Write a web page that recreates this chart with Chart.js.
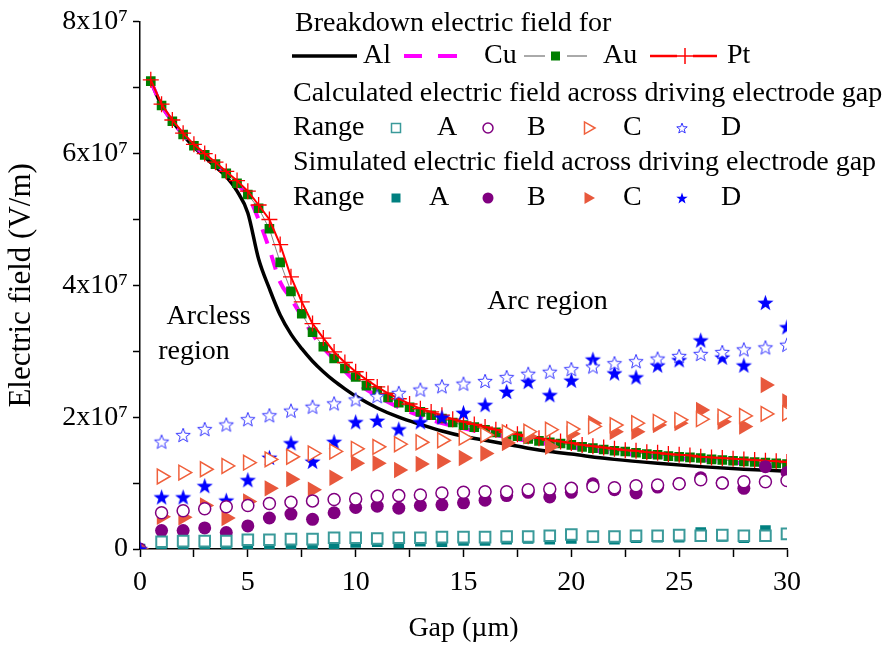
<!DOCTYPE html>
<html>
<head>
<meta charset="utf-8">
<script src="https://cdn.jsdelivr.net/npm/chart.js@4/dist/chart.umd.min.js"></script>
<style>
  html, body { margin: 0; padding: 0; background: #fff; }
  #wrap { width: 896px; height: 646px; }
</style>
</head>
<body>
<div id="wrap"><canvas id="chart" width="896" height="646"></canvas></div>
<script>
// Field values are in units of 1e6 V/m; the y ticks print them as Nx10^7.

// Breakdown field curves
const gapBreak = [0.5, 1, 1.5, 2, 2.5, 3, 3.5, 4, 4.5, 5, 5.5, 6, 6.5, 7, 7.5, 8, 8.5, 9, 9.5, 10,
                  10.5, 11, 11.5, 12, 12.5, 13, 13.5, 14, 14.5, 15, 15.5, 16, 16.5, 17, 17.5, 18, 18.5, 19, 19.5, 20,
                  20.5, 21, 21.5, 22, 22.5, 23, 23.5, 24, 24.5, 25, 25.5, 26, 26.5, 27, 27.5, 28, 28.5, 29, 29.5, 30];
const fieldAu = [71.0, 67.3, 64.9, 62.9, 61.2, 59.8, 58.4, 57.0, 55.5, 53.8, 51.7, 48.6, 43.5, 39.1, 35.7, 32.9, 30.7, 28.9, 27.4, 26.1,
                 24.8, 24.0, 23.0, 22.2, 21.5, 20.8, 20.3, 19.8, 19.2, 18.8, 18.5, 18.1, 17.7, 17.3, 17.1, 16.7, 16.4, 16.2, 16.0, 15.8,
                 15.5, 15.3, 15.1, 14.9, 14.8, 14.6, 14.4, 14.3, 14.1, 14.0, 13.9, 13.8, 13.6, 13.5, 13.4, 13.3, 13.2, 13.1, 13.0, 12.9];
const fieldPt = [71.2, 67.5, 65.1, 63.1, 61.4, 60.0, 58.7, 57.3, 55.9, 54.3, 52.2, 50.0, 46.2, 41.3, 37.5, 34.2, 32.0, 29.9, 28.3, 26.9,
                 25.7, 24.6, 23.6, 22.8, 22.0, 21.3, 20.8, 20.3, 19.7, 19.3, 18.9, 18.5, 18.1, 17.7, 17.4, 17.1, 16.8, 16.5, 16.3, 16.1,
                 15.8, 15.6, 15.4, 15.2, 15.0, 14.9, 14.7, 14.6, 14.4, 14.3, 14.2, 14.0, 13.9, 13.8, 13.7, 13.6, 13.5, 13.4, 13.3, 13.2];
const gapAl = [0.5, 1, 1.5, 2, 2.5, 3, 3.5, 4, 4.5, 5, 5.5, 6, 6.5, 7, 7.5, 8, 8.5, 9, 9.5, 10,
               11, 12, 13, 14, 15, 16, 17, 18, 19, 20, 22, 24, 26, 28, 30];
const fieldAl = [71.0, 67.3, 64.9, 62.8, 61.0, 59.5, 58.0, 56.5, 54.3, 51.0, 44.0, 39.5, 35.5, 32.6, 30.4, 28.5, 26.9, 25.5, 24.3, 23.2,
                 21.4, 20.0, 18.9, 17.9, 17.1, 16.5, 15.9, 15.3, 14.8, 14.4, 13.6, 13.0, 12.5, 12.1, 11.8];
const gapCu = [0.5, 1, 1.5, 2, 2.5, 3, 3.5, 4, 4.5, 5, 5.5, 6, 6.5, 7, 7.5, 8, 8.5, 9, 9.5, 10,
               11, 12, 13, 14, 15, 16, 18, 20, 22, 24, 26, 28, 30];
const fieldCu = [71.0, 67.3, 64.9, 62.9, 61.2, 59.8, 58.4, 57.0, 55.4, 53.6, 50.0, 45.5, 40.5, 38.0, 35.3, 32.6, 30.5, 28.8, 27.0, 25.4,
                 23.2, 21.5, 20.2, 19.1, 18.3, 17.6, 16.4, 15.4, 14.6, 14.0, 13.5, 13.0, 12.6];

// Field across the driving electrode gap, ranges A-D
const gapCalc = [1, 2, 3, 4, 5, 6, 7, 8, 9, 10, 11, 12, 13, 14, 15, 16, 17, 18, 19, 20,
                 21, 22, 23, 24, 25, 26, 27, 28, 29, 30];
const calcA = [1.1, 1.2, 1.2, 1.2, 1.4, 1.4, 1.5, 1.5, 1.7, 1.7, 1.6, 1.7, 1.7, 1.8, 1.8, 1.8, 1.9, 1.9, 2.0, 2.2,
               1.9, 1.9, 2.0, 2.0, 2.1, 2.0, 2.1, 2.0, 2.0, 2.3];
const calcB = [5.5, 5.8, 6.1, 6.4, 6.6, 6.9, 7.1, 7.3, 7.5, 7.6, 8.0, 8.1, 8.2, 8.5, 8.6, 8.7, 8.7, 9.0, 9.1, 9.2,
               9.5, 9.3, 9.6, 9.7, 9.9, 10.5, 10.0, 10.2, 10.2, 10.4];
const calcC = [11.0, 11.6, 12.1, 12.6, 13.1, 13.6, 14.0, 14.5, 14.8, 15.2, 15.5, 15.9, 16.2, 16.5, 16.9, 17.3, 17.7, 17.8, 18.1, 18.2,
               18.6, 18.8, 19.1, 19.3, 19.6, 19.7, 20.1, 20.2, 20.5, 20.6];
const calcD = [16.3, 17.3, 18.2, 18.9, 19.7, 20.3, 21.0, 21.6, 22.1, 22.7, 23.2, 23.7, 24.2, 24.7, 25.1, 25.5, 26.1, 26.6, 26.9, 27.3,
               27.7, 28.2, 28.5, 28.9, 29.3, 29.6, 29.9, 30.3, 30.6, 31.0];

const gapSim = [0, 1, 2, 3, 4, 5, 6, 7, 8, 9, 10, 11, 12, 13, 14, 15, 16, 17, 18, 19, 20,
                21, 22, 23, 24, 25, 26, 27, 28, 29, 30];
const simA = [0, 0.6, 0.6, 0.5, 0.6, 0.5, 0.4, 0.5, 0.3, 0.8, 1.0, 1.1, 0.9, 1.2, 1.1, 1.3, 1.3, 1.5, 1.6, 1.5, 1.6,
              1.7, 1.5, 1.7, 1.8, 1.8, 2.5, 1.9, 1.7, 2.8, 2.2];
const simB = [0, 2.8, 2.8, 3.2, 2.5, 3.5, 4.7, 5.3, 4.5, 5.5, 6.3, 6.5, 6.2, 6.6, 6.7, 7.0, 7.4, 8.1, 8.6, 7.9, 8.6,
              9.9, 9.0, 8.5, 9.4, 9.9, 10.8, 10.0, 9.2, 12.5, 11.6];
const simC = [0, 4.9, 4.8, 6.6, 4.7, 7.2, 9.2, 10.6, 9.0, 10.8, 13.0, 13.0, 12.0, 12.9, 13.3, 13.8, 14.5, 16.1, 17.1, 15.5, 17.5,
              19.1, 17.8, 17.8, 18.8, 19.1, 21.1, 19.3, 18.6, 24.9, 22.4];
const simD = [0, 7.9, 7.9, 9.6, 7.4, 10.5, 13.9, 16.1, 13.3, 16.3, 19.3, 19.5, 18.2, 19.3, 20.0, 20.7, 21.9, 23.9, 25.4, 23.4, 25.6,
              28.8, 26.7, 26.1, 27.9, 28.7, 31.7, 29.1, 27.9, 37.4, 33.7];

// ------------------------------------------------------------
const SERIF = "'Liberation Serif', 'Times New Roman', serif";
const FONT28 = { family: SERIF, size: 28 };

const COL = {
    tealOpen: "#3a9a9a", teal: "#008080",
    purple: "#800080",
    orangeOpen: "#f0603c", orange: "#e8583c",
    blueOpen: "#3535ff", blue: "#0000ff",
    green: "#007f00", magenta: "#ff00ff", red: "#ff0000",
};

const pts = (xs, ys) => xs.map((x, i) => ({ x, y: ys[i] }));

// five-point star as an image, used as pointStyle
function starImage(r, fill, stroke, lw, inner) {
    const size = Math.ceil(2 * r + lw + 2);
    const c = document.createElement("canvas");
    c.width = c.height = size;
    const g = c.getContext("2d");
    const cx = size / 2, cy = size / 2 + r * 0.1;
    g.beginPath();
    for (let i = 0; i < 10; i++) {
        const rr = i % 2 ? r * inner : r;
        const a = -Math.PI / 2 + i * Math.PI / 5;
        const px = cx + rr * Math.cos(a), py = cy + rr * Math.sin(a);
        if (i) g.lineTo(px, py); else g.moveTo(px, py);
    }
    g.closePath();
    g.fillStyle = fill;
    g.fill();
    if (lw) { g.lineWidth = lw; g.strokeStyle = stroke; g.stroke(); }
    return c;
}

const starOpen = starImage(7.5, "#fff", COL.blueOpen, 1, 0.42);
const starFill = starImage(8.5, COL.blue, COL.blue, 0, 0.4);
const starOpenSm = starImage(5.5, "#fff", COL.blueOpen, 1, 0.42);
const starFillSm = starImage(6, COL.blue, COL.blue, 0, 0.4);

// ------------------------------------------------------------
//  Legend block and region labels drawn over the plot
// ------------------------------------------------------------
function marker(ctx, kind, x, y, r, color, open) {
    ctx.save();
    ctx.fillStyle = open ? "#fff" : color;
    ctx.strokeStyle = color;
    ctx.lineWidth = 1.5;
    ctx.beginPath();
    if (kind === "rect") {
        ctx.rect(x - r, y - r, 2 * r, 2 * r);
    } else if (kind === "circle") {
        ctx.arc(x, y, r, 0, Math.PI * 2);
    } else if (kind === "tri") {
        ctx.moveTo(x + r, y);
        ctx.lineTo(x - r * 0.5, y - r * 0.866);
        ctx.lineTo(x - r * 0.5, y + r * 0.866);
        ctx.closePath();
    }
    ctx.fill();
    if (open) ctx.stroke();
    ctx.restore();
}

function hline(ctx, x0, x1, y, color, w, dash) {
    ctx.save();
    ctx.strokeStyle = color;
    ctx.lineWidth = w;
    if (dash) ctx.setLineDash(dash);
    ctx.beginPath();
    ctx.moveTo(x0, y);
    ctx.lineTo(x1, y);
    ctx.stroke();
    ctx.restore();
}

const overlay = {
    id: "overlay",
    afterDraw(chart) {
        const ctx = chart.ctx;
        const { x, y } = chart.scales;
        ctx.save();
        ctx.font = "28px " + SERIF;
        ctx.fillStyle = "#000";
        ctx.textBaseline = "middle";

        // regions
        ctx.textAlign = "center";
        ctx.fillText("Arcless", x.getPixelForValue(3.18), y.getPixelForValue(35.3));
        ctx.fillText("region", x.getPixelForValue(2.5), y.getPixelForValue(30.0));
        ctx.fillText("Arc region", x.getPixelForValue(18.9), y.getPixelForValue(37.6));

        // legend
        ctx.textAlign = "left";
        ctx.fillText("Breakdown electric field for", 295, 24);

        const r2 = 56;
        hline(ctx, 292, 357, r2, "#000", 3.5);
        ctx.fillText("Al", 363, r2);
        hline(ctx, 404, 422, r2, COL.magenta, 4);
        hline(ctx, 438, 457, r2, COL.magenta, 4);
        ctx.fillText("Cu", 484, r2);
        hline(ctx, 524, 545, r2, "#555", 1);
        ctx.fillStyle = COL.green;
        ctx.fillRect(551, r2 - 4.5, 9, 9);
        ctx.fillStyle = "#000";
        hline(ctx, 567, 587, r2, "#555", 1);
        ctx.fillText("Au", 603, r2);
        hline(ctx, 650, 677, r2, COL.red, 2.5);
        hline(ctx, 677, 693, r2, COL.red, 1.5);
        ctx.save();
        ctx.strokeStyle = COL.red; ctx.lineWidth = 1.5;
        ctx.beginPath(); ctx.moveTo(685, r2 - 8); ctx.lineTo(685, r2 + 8); ctx.stroke();
        ctx.restore();
        hline(ctx, 693, 717, r2, COL.red, 2.5);
        ctx.fillText("Pt", 727, r2);

        ctx.fillText("Calculated electric field across driving electrode gap", 293, 94);
        const r4 = 128;
        ctx.fillText("Range", 293, r4);
        marker(ctx, "rect", 396, r4, 4.5, COL.tealOpen, true);
        ctx.fillText("A", 437, r4);
        marker(ctx, "circle", 488, r4, 5, COL.purple, true);
        ctx.fillText("B", 527, r4);
        marker(ctx, "tri", 588, r4, 7, COL.orangeOpen, true);
        ctx.fillText("C", 623, r4);
        ctx.drawImage(starOpenSm, 682 - starOpenSm.width / 2, r4 - starOpenSm.height / 2);
        ctx.fillText("D", 721, r4);

        ctx.fillText("Simulated electric field across driving electrode gap", 293, 163);
        const r6 = 198;
        ctx.fillText("Range", 293, r6);
        marker(ctx, "rect", 396, r6, 4.5, COL.teal, false);
        ctx.fillText("A", 429, r6);
        marker(ctx, "circle", 488, r6, 5.5, COL.purple, false);
        ctx.fillText("B", 527, r6);
        marker(ctx, "tri", 588, r6, 7, COL.orange, false);
        ctx.fillText("C", 623, r6);
        ctx.drawImage(starFillSm, 682 - starFillSm.width / 2, r6 - starFillSm.height / 2);
        ctx.fillText("D", 721, r6);
        ctx.restore();
    },
};

// ------------------------------------------------------------
//  Datasets
// ------------------------------------------------------------
const datasets = [
    { label: "Al", data: pts(gapAl, fieldAl), showLine: true, borderColor: "#000", borderWidth: 3.5,
      pointRadius: 0, cubicInterpolationMode: "monotone", order: 20 },
    { label: "Cu", data: pts(gapCu, fieldCu), showLine: true, borderColor: COL.magenta, borderWidth: 4,
      borderDash: [15, 12], pointRadius: 0, cubicInterpolationMode: "monotone", order: 19 },
    { label: "Au", data: pts(gapBreak, fieldAu), showLine: true, borderColor: "#666", borderWidth: 0.8,
      pointStyle: "rect", pointRadius: 6.8, backgroundColor: COL.green,
      pointBorderWidth: 0, order: 18 },
    { label: "Pt", data: pts(gapBreak, fieldPt), showLine: true, borderColor: COL.red, borderWidth: 2,
      pointStyle: "cross", pointRadius: 8, pointBorderColor: COL.red, pointBorderWidth: 1.3, order: 17 },

    { label: "Sim A", data: pts(gapSim, simA), pointStyle: "rect", pointRadius: 7.5,
      backgroundColor: COL.teal, borderWidth: 0, order: 12 },
    { label: "Sim B", data: pts(gapSim, simB), pointStyle: "circle", pointRadius: 6.5,
      backgroundColor: COL.purple, borderWidth: 0, order: 11 },
    { label: "Sim C", data: pts(gapSim, simC), pointStyle: "triangle", rotation: 90, pointRadius: 9.5,
      backgroundColor: COL.orange, borderWidth: 0, order: 10 },
    { label: "Sim D", data: pts(gapSim, simD), pointStyle: starFill, order: 9 },

    { label: "Calc A", data: pts(gapCalc, calcA), pointStyle: "rect", pointRadius: 7.5,
      backgroundColor: "#fff", borderColor: COL.tealOpen, borderWidth: 2, order: 8 },
    { label: "Calc B", data: pts(gapCalc, calcB), pointStyle: "circle", pointRadius: 6,
      backgroundColor: "#fff", borderColor: COL.purple, borderWidth: 1.5, order: 7 },
    { label: "Calc C", data: pts(gapCalc, calcC), pointStyle: "triangle", rotation: 90, pointRadius: 8.5,
      backgroundColor: "#fff", borderColor: COL.orangeOpen, borderWidth: 1.5, order: 6 },
    { label: "Calc D", data: pts(gapCalc, calcD), pointStyle: starOpen, order: 5 },
];
datasets.forEach(d => { d.clip = 0; });

new Chart(document.getElementById("chart"), {
    type: "scatter",
    data: { datasets },
    options: {
        responsive: false,
        animation: false,
        events: [],
        layout: { padding: { left: 0, top: 21, right: 109, bottom: 0 } },
        plugins: { legend: { display: false }, tooltip: { enabled: false } },
        scales: {
            x: {
                type: "linear", min: 0, max: 30,
                afterFit: s => { s.height = 97; },
                ticks: {
                    stepSize: 2.5, autoSkip: false, maxRotation: 0, padding: 9,
                    color: "#000", font: FONT28,
                    callback: v => (v % 5 === 0 ? String(v) : ""),
                },
                grid: { drawOnChartArea: false, tickLength: 8, tickWidth: 1.5, tickColor: "#000" },
                border: { color: "#000", width: 1.5 },
                title: { display: true, text: "Gap (µm)", color: "#000", font: FONT28,
                         padding: { top: 0, bottom: 1 } },
            },
            y: {
                type: "linear", min: 0, max: 80,
                afterFit: s => { s.width = 140; },
                ticks: {
                    stepSize: 10, padding: 5, color: "#000", font: FONT28,
                    callback: v => (v === 0 ? "0" : v % 20 === 0 ? (v / 10) + "x10⁷" : ""),
                },
                grid: { drawOnChartArea: false, tickLength: 7, tickWidth: 1.5, tickColor: "#000" },
                border: { color: "#000", width: 1.5 },
                title: { display: true, text: "Electric field (V/m)", color: "#000",
                         font: { family: SERIF, size: 31 }, padding: { top: 3, bottom: 0 } },
            },
        },
    },
    plugins: [overlay],
});
</script>
</body>
</html>
